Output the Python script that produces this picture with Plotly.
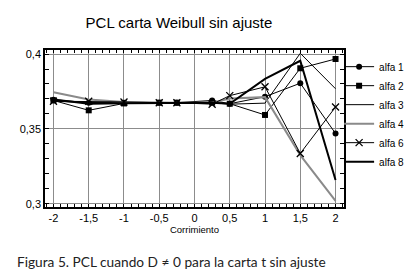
import plotly.graph_objects as go

x_vals = [-2, -1.5, -1, -0.5, -0.25, 0.25, 0.5, 1, 1.5, 2]
alfa1 = [0.3695, 0.3675, 0.3675, 0.3675, 0.3675, 0.3690, 0.3668, 0.3715, 0.3805, 0.3469]
alfa2 = [0.3690, 0.3624, 0.3670, 0.3675, 0.3675, 0.3675, 0.3668, 0.3593, 0.3905, 0.3967]
alfa3 = [0.3685, 0.3675, 0.3675, 0.3675, 0.3675, 0.3675, 0.3665, 0.3672, 0.4005, 0.3768]
alfa4 = [0.3745, 0.3697, 0.3680, 0.3675, 0.3675, 0.3675, 0.3703, 0.3712, 0.3325, 0.3019]
alfa6 = [0.3685, 0.3685, 0.3680, 0.3675, 0.3675, 0.3665, 0.3722, 0.3781, 0.3336, 0.3646]
alfa8 = [0.3697, 0.3668, 0.3672, 0.3675, 0.3675, 0.3675, 0.3668, 0.3834, 0.3955, 0.3159]

x_ticks = [-2, -1.5, -1, -0.5, 0, 0.5, 1, 1.5, 2]
x_labels = ["-2", "-1,5", "-1", "-0,5", "0", "0,5", "1", "1,5", "2"]
y_ticks = [0.3, 0.35, 0.4]
y_labels = ["0,3", "0,35", "0,4"]

FONT = "Liberation Sans, Arial, sans-serif"

series = [
    ("alfa 1", alfa1, dict(color="black", width=1), dict(symbol="circle", size=6, color="black")),
    ("alfa 2", alfa2, dict(color="black", width=1), dict(symbol="square", size=6, color="black")),
    ("alfa 3", alfa3, dict(color="black", width=1), None),
    ("alfa 4", alfa4, dict(color="#8a8a8a", width=2), None),
    ("alfa 6", alfa6, dict(color="black", width=1), dict(symbol="x-thin", size=7, color="black",
                                                          line=dict(color="black", width=1.3))),
    ("alfa 8", alfa8, dict(color="black", width=2), None),
]

fig = go.Figure()
for name, ys, line, marker in series:
    fig.add_trace(go.Scatter(
        x=x_vals, y=ys, name=name,
        mode="lines+markers" if marker else "lines",
        line=line, marker=marker if marker else None,
    ))

axis_common = dict(
    showline=True, linecolor="black", linewidth=1.5, mirror="allticks",
    showgrid=True, gridcolor="#8c8c8c", gridwidth=1,
    zeroline=False, ticks="", tickfont=dict(family=FONT, size=11, color="black"),
    automargin=False,
)

fig.update_xaxes(
    range=[-2.12, 2.12], tickmode="array", tickvals=x_ticks, ticktext=x_labels,
    minor=dict(tickmode="linear", tick0=0, dtick=0.1, ticks="inside", ticklen=3,
               tickcolor="black", showgrid=False),
    title=dict(text="Corrimiento", font=dict(family=FONT, size=9.5, color="black"), standoff=3),
    **axis_common,
)
fig.update_yaxes(
    range=[0.2978, 0.4027], tickmode="array", tickvals=y_ticks, ticktext=y_labels,
    minor=dict(tickmode="linear", tick0=0, dtick=0.01, ticks="inside", ticklen=4,
               tickcolor="black", showgrid=False),
    **axis_common,
)

fig.update_layout(
    width=417, height=276,
    margin=dict(l=37, r=81, t=42, b=77, autoexpand=False),
    paper_bgcolor="white", plot_bgcolor="white",
    title=dict(text="PCL carta Weibull sin ajuste", x=0.41, xanchor="center",
               y=0.945, yanchor="middle",
               font=dict(family=FONT, size=15, color="black")),
    legend=dict(xref="container", yref="container", x=0.794, y=0.84,
                xanchor="left", yanchor="top",
                font=dict(family=FONT, size=10, color="black"),
                tracegroupgap=0, itemwidth=30, bgcolor="rgba(0,0,0,0)"),
    annotations=[dict(
        text="Figura 5. PCL cuando D \u2260 0 para la carta t sin ajuste",
        xref="paper", yref="paper", x=-0.1, y=-0.35, xanchor="left", yanchor="middle",
        showarrow=False, font=dict(family="Lato, Open Sans, sans-serif", size=13.7, color="#222222"),
    )],
)

fig.write_html("out.html")
